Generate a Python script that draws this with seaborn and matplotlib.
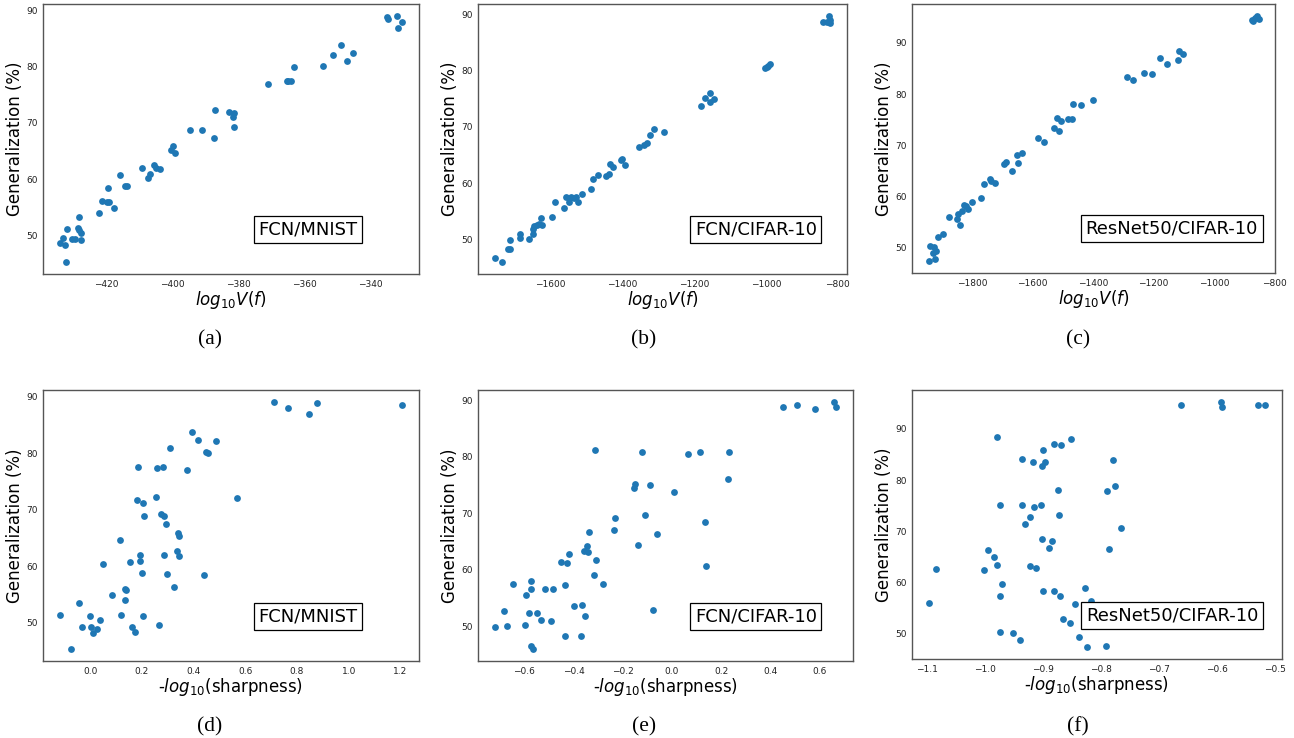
import matplotlib
matplotlib.use("Agg")
import matplotlib.pyplot as plt
import seaborn as sns
import pandas as pd

# ---------------- data ----------------
a_x = [-433.9, -433.1, -432.5, -432.0, -431.7, -430.3, -429.5, -428.6, -428.2, -428.2,
       -427.7, -427.6, -422.2, -421.1, -419.6, -419.4, -419.1, -417.7, -415.6, -414.1,
       -413.7, -409.1, -407.4, -406.6, -405.4, -404.8, -403.5, -400.3, -399.7, -399.0,
       -394.4, -390.9, -387.4, -387.1, -382.7, -381.5, -381.1, -381.3, -370.9, -365.2,
       -364.7, -364.0, -363.0, -354.2, -351.1, -348.9, -347.0, -345.0, -334.9, -334.6,
       -331.8, -331.4, -330.3]
a_y = [48.6, 49.5, 48.2, 45.3, 51.2, 49.3, 49.3, 51.3, 53.3, 50.9,
       50.4, 49.1, 54.0, 56.2, 55.9, 58.4, 55.9, 54.8, 60.7, 58.8,
       58.7, 61.9, 60.2, 61.0, 62.6, 62.0, 61.8, 65.2, 65.9, 64.7,
       68.8, 68.8, 67.4, 72.3, 72.0, 71.1, 71.8, 69.2, 77.0, 77.4,
       77.5, 77.5, 80.0, 80.1, 82.1, 83.8, 81.0, 82.4, 88.8, 88.5,
       89.0, 87.0, 88.0]

b_x = [-1753, -1734, -1715, -1711, -1710, -1682, -1682, -1658, -1648, -1646,
       -1645, -1637, -1631, -1624, -1623, -1594, -1585, -1560, -1554, -1546,
       -1542, -1533, -1526, -1521, -1511, -1485, -1480, -1465, -1445, -1437,
       -1433, -1424, -1403, -1399, -1391, -1353, -1338, -1331, -1322, -1310,
       -1284, -1180, -1170, -1156, -1154, -1144, -1001, -997, -993, -988,
       -841, -830, -824, -823, -821]
b_y = [46.6, 46.0, 48.2, 48.3, 49.8, 51.0, 50.3, 50.1, 51.9, 51.0,
       52.3, 52.6, 52.8, 53.7, 52.5, 53.9, 56.6, 55.5, 57.5, 56.7,
       57.5, 57.3, 57.5, 56.6, 58.0, 59.0, 60.7, 61.5, 61.3, 61.6,
       63.4, 62.8, 64.1, 64.3, 63.2, 66.4, 66.7, 67.1, 68.5, 69.6,
       69.1, 73.7, 75.2, 76.0, 74.5, 74.9, 80.5, 80.7, 80.9, 81.2,
       88.7, 88.7, 89.7, 89.1, 88.5]

c_x = [-1943, -1937, -1926, -1927, -1922, -1919, -1913, -1894, -1875, -1848,
       -1844, -1839, -1834, -1826, -1820, -1814, -1800, -1770, -1761, -1739,
       -1735, -1723, -1693, -1687, -1668, -1652, -1646, -1635, -1582, -1562,
       -1529, -1520, -1511, -1507, -1482, -1470, -1465, -1440, -1401, -1289,
       -1269, -1232, -1205, -1177, -1154, -1120, -1117, -1103, -873, -870,
       -866, -859, -853]
c_y = [47.5, 50.4, 50.1, 49.0, 47.8, 49.5, 52.1, 52.8, 56.0, 55.7,
       56.6, 54.5, 57.3, 58.4, 58.1, 57.6, 59.0, 59.8, 62.5, 63.5,
       63.0, 62.7, 66.4, 66.7, 65.1, 68.1, 66.5, 68.5, 71.4, 70.7,
       73.4, 75.3, 72.9, 74.8, 75.1, 75.1, 78.1, 77.8, 78.8, 83.4,
       82.7, 84.2, 84.0, 87.1, 85.8, 86.7, 88.4, 87.9, 94.5, 94.2,
       94.9, 95.2, 94.7]

d_x = [-0.117, -0.073, -0.043, -0.034, -0.001, 0.004, 0.010, 0.027, 0.039, 0.050,
       0.082, 0.115, 0.120, 0.134, 0.136, 0.139, 0.155, 0.163, 0.171, 0.179,
       0.185, 0.192, 0.193, 0.199, 0.202, 0.205, 0.206, 0.255, 0.259, 0.267,
       0.274, 0.283, 0.284, 0.284, 0.294, 0.297, 0.310, 0.323, 0.335, 0.339,
       0.343, 0.345, 0.375, 0.392, 0.416, 0.440, 0.446, 0.457, 0.485, 0.568,
       0.711, 0.765, 0.846, 0.876, 1.206]
d_y = [51.4, 45.4, 53.4, 49.3, 51.2, 49.2, 48.2, 48.8, 50.5, 60.3,
       54.9, 64.7, 51.3, 56.0, 54.0, 55.8, 60.7, 49.3, 48.3, 71.8,
       77.5, 61.0, 62.0, 58.8, 71.1, 51.2, 68.8, 72.3, 77.3, 49.6,
       69.2, 77.6, 68.8, 62.0, 67.4, 58.7, 81.0, 56.3, 62.7, 65.9,
       65.3, 61.8, 77.0, 83.8, 82.4, 58.4, 80.2, 80.0, 82.1, 72.0,
       89.0, 88.0, 87.0, 88.8, 88.5]

e_x = [-0.719, -0.683, -0.672, -0.648, -0.596, -0.593, -0.579, -0.574, -0.571, -0.573,
       -0.564, -0.549, -0.534, -0.517, -0.493, -0.482, -0.451, -0.435, -0.435, -0.426,
       -0.420, -0.396, -0.369, -0.365, -0.358, -0.353, -0.347, -0.342, -0.339, -0.317,
       -0.312, -0.310, -0.280, -0.236, -0.231, -0.154, -0.149, -0.137, -0.120, -0.111,
       -0.089, -0.076, -0.059, 0.008, 0.064, 0.115, 0.134, 0.137, 0.227, 0.231,
       0.451, 0.507, 0.581, 0.659, 0.667]
e_y = [49.8, 52.6, 50.1, 57.5, 50.2, 55.5, 52.4, 58.0, 56.6, 46.5,
       46.0, 52.4, 51.0, 56.5, 50.9, 56.6, 61.4, 57.3, 48.2, 61.2,
       62.7, 53.6, 48.2, 53.8, 63.3, 51.8, 64.1, 63.1, 66.6, 59.0,
       81.2, 61.7, 57.4, 67.0, 69.1, 74.5, 75.2, 64.3, 80.8, 69.6,
       74.9, 52.9, 66.3, 73.7, 80.5, 80.8, 68.5, 60.7, 76.0, 80.8,
       88.8, 89.1, 88.5, 89.6, 88.7]

f_x = [-1.097, -1.084, -1.002, -0.995, -0.985, -0.980, -0.979, -0.974, -0.974, -0.974,
       -0.970, -0.952, -0.939, -0.937, -0.936, -0.932, -0.923, -0.923, -0.917, -0.915,
       -0.913, -0.903, -0.901, -0.901, -0.900, -0.900, -0.896, -0.890, -0.884, -0.882,
       -0.881, -0.875, -0.872, -0.871, -0.869, -0.865, -0.854, -0.852, -0.845, -0.838,
       -0.828, -0.824, -0.818, -0.810, -0.792, -0.789, -0.786, -0.779, -0.776, -0.765,
       -0.662, -0.594, -0.591, -0.530, -0.517]
f_y = [56.0, 62.7, 62.4, 66.3, 65.1, 63.5, 88.4, 50.3, 75.2, 57.5,
       59.7, 50.1, 48.9, 84.2, 75.1, 71.4, 72.8, 63.2, 83.5, 74.8,
       62.8, 75.2, 68.5, 82.8, 85.9, 58.4, 83.5, 66.7, 68.1, 87.1,
       58.4, 78.1, 73.3, 57.5, 86.8, 52.9, 52.1, 88.0, 55.8, 49.4,
       59.0, 47.5, 56.5, 54.6, 47.7, 77.8, 66.5, 84.0, 78.8, 70.7,
       94.7, 95.2, 94.2, 94.7, 94.7]

panel_labels = ["FCN/MNIST", "FCN/CIFAR-10", "ResNet50/CIFAR-10",
                "FCN/MNIST", "FCN/CIFAR-10", "ResNet50/CIFAR-10"]
captions = ["(a)", "(b)", "(c)", "(d)", "(e)", "(f)"]
xlabel_top = r"$log_{10}V(f)$"
xlabel_bottom = r"-$log_{10}$(sharpness)"
ylabel = "Generalization (%)"

# ---------------- plotting ----------------
sns.set_style("white")
plt.rcParams["font.family"] = ["DejaVu Sans"]
plt.rcParams["mathtext.fontset"] = "dejavusans"
plt.rcParams["text.color"] = "black"
plt.rcParams["axes.labelcolor"] = "black"

W, H = 1294, 738
fig = plt.figure(figsize=(W / 100, H / 100), dpi=100)

# axes boxes in pixels: (x0, y0_top, x1, y1_bottom)
boxes = [(43, 4, 419, 274), (478, 4, 847, 274), (912, 4, 1275, 273),
         (43, 390, 419, 661), (478, 390, 853, 661), (912, 390, 1282, 659)]
label_pos = [(0.705, 0.165), (0.753, 0.165), (0.716, 0.165),
             (0.705, 0.166), (0.741, 0.166), (0.703, 0.16)]
caption_pos = [(210, 340), (644, 340), (1078, 340),
               (210, 727), (644, 727), (1078, 727)]

datasets = [(a_x, a_y), (b_x, b_y), (c_x, c_y), (d_x, d_y), (e_x, e_y), (f_x, f_y)]

for i, ((xs, ys), (x0, y0, x1, y1)) in enumerate(zip(datasets, boxes)):
    ax = fig.add_axes([x0 / W, 1 - y1 / H, (x1 - x0) / W, (y1 - y0) / H])
    df = pd.DataFrame({"x": xs, "y": ys})
    sns.scatterplot(data=df, x="x", y="y", ax=ax, color="#1f77b4", s=24,
                    linewidth=0, zorder=2)
    ax.set_xlabel(xlabel_top if i < 3 else xlabel_bottom, fontsize=12, labelpad=0.5)
    ax.set_ylabel(ylabel, fontsize=12, labelpad=1.5)
    ax.tick_params(direction="in", length=3, width=0.8, labelsize=6.5,
                   colors="#333333", labelcolor="#222222", pad=4)
    for sp in ax.spines.values():
        sp.set_color("#555555")
        sp.set_linewidth(1.0)
    ax.text(label_pos[i][0], label_pos[i][1], panel_labels[i], transform=ax.transAxes,
            ha="center", va="center", fontsize=13, zorder=5, color="black",
            bbox=dict(boxstyle="square,pad=0.25", facecolor="white",
                      edgecolor="black", linewidth=0.9))
    cx, cy = caption_pos[i]
    fig.text(cx / W, 1 - cy / H, captions[i], ha="center", va="center",
             fontsize=15.5, family="Liberation Serif", color="black")

fig.savefig("out.png", dpi=100)
